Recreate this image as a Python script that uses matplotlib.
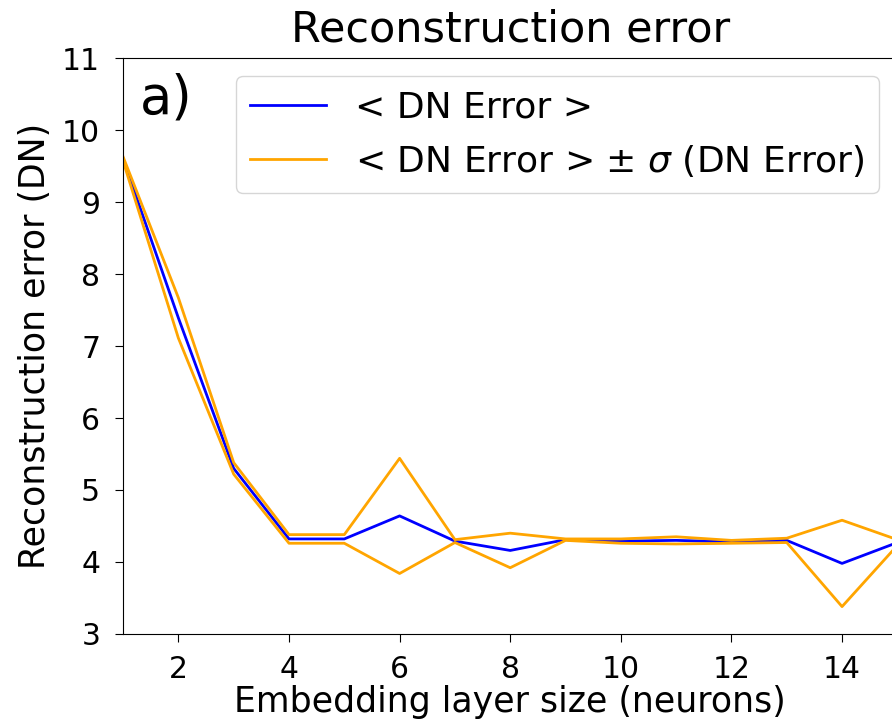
import numpy as np
import matplotlib
matplotlib.use("Agg")
import matplotlib.pyplot as plt

# embedding layer sizes and reconstruction error stats
sizes = [1, 2, 3, 4, 5, 6, 7, 8, 9, 10, 11, 12, 13, 14, 15]
mean_err = [9.60, 7.39, 5.30, 4.32, 4.32, 4.64, 4.29, 4.16, 4.31, 4.29, 4.30, 4.28, 4.30, 3.98, 4.27]
std_err = [0.03, 0.28, 0.08, 0.06, 0.06, 0.80, 0.02, 0.24, 0.01, 0.03, 0.05, 0.02, 0.03, 0.60, 0.04]

mean_err = np.array(mean_err)
std_err = np.array(std_err)

fig = plt.figure(figsize=(8.92, 7.27), dpi=100)
ax = fig.add_axes([0.138, 0.128, 0.868, 0.792])

ax.plot(sizes, mean_err, color="blue", lw=2, label="< DN Error >")
ax.plot(sizes, mean_err + std_err, color="orange", lw=2,
        label=r"< DN Error > $\pm$ $\sigma$ (DN Error)")
ax.plot(sizes, mean_err - std_err, color="orange", lw=2)

ax.set_xlim(1, 15)
ax.set_ylim(3, 11)
ax.set_xticks([2, 4, 6, 8, 10, 12, 14])
ax.set_yticks(range(3, 12))
ax.tick_params(labelsize=21.5, length=6)
ax.tick_params(axis="x", pad=9)
ax.tick_params(axis="y", pad=10.5)

ax.set_title("Reconstruction error", fontsize=31, pad=12)
ax.set_xlabel("Embedding layer size (neurons)", fontsize=25, labelpad=1)
ax.set_ylabel("Reconstruction error (DN)", fontsize=25, labelpad=7)
ax.text(0.022, 0.975, "a)", transform=ax.transAxes, fontsize=38, va="top")

ax.legend(loc="upper right", fontsize=26, handlelength=2.1)

fig.savefig("out.png", dpi=100)
